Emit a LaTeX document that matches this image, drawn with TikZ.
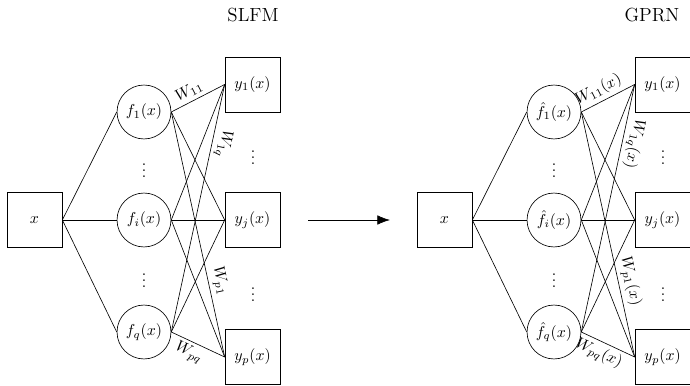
\documentclass[tikz,border=0pt]{standalone}
\usetikzlibrary{arrows.meta}
\begin{document}
\begin{tikzpicture}[x=0.6323pt,y=-0.6323pt,
  box/.style={draw, minimum size=34.8pt, inner sep=0pt},
  fnode/.style={draw, circle, minimum size=34.1pt, inner sep=0pt},
  lab/.style={sloped, inner sep=2.2pt},
  ttl/.style={font=\large}]
\useasboundingbox (0,0) rectangle (690,386);
\node[ttl] (tL) at (253,15) {SLFM};
\node[ttl] (tR) at (652,15) {GPRN};
\foreach \s/\o/\f/\w in {L/0/f/{}, R/410/\hat{f}/(x)} {
  \node[box] (x\s) at (34.5+\o,220) {$x$};
  \node[fnode] (f1\s) at (144+\o,112) {$\f_1(x)$};
  \node[fnode] (fi\s) at (144+\o,220) {$\f_i(x)$};
  \node[fnode] (fq\s) at (144+\o,332) {$\f_q(x)$};
  \node[box] (y1\s) at (252.5+\o,84.5) {$y_1(x)$};
  \node[box] (yj\s) at (252.5+\o,220) {$y_j(x)$};
  \node[box] (yp\s) at (252.5+\o,357) {$y_p(x)$};
  \node (da\s) at (144+\o,166) {$\vdots$};
  \node (db\s) at (144+\o,276) {$\vdots$};
  \node (dc\s) at (253+\o,153) {$\vdots$};
  \node (dd\s) at (253+\o,290) {$\vdots$};
  \foreach \a in {1,i,q} {
    \draw (x\s.east) -- (f\a\s.west);
    \foreach \b in {1,j,p} {
      \draw (f\a\s.east) -- (y\b\s.west);
    }
  }
  \path (f1\s.east) -- node[lab, above, pos=0.42] {$W_{11}\w$} (y1\s.west);
  \path (y1\s.west) -- node[lab, above, pos=0.23, allow upside down] {$W_{1q}\w$} (fq\s.east);
  \path (f1\s.east) -- node[lab, above, pos=0.7] {$W_{p1}\w$} (yp\s.west);
  \path (fq\s.east) -- node[lab, below, pos=0.42] {$W_{pq}\w$} (yp\s.west);
}
\coordinate (a1) at (308,220);
\coordinate (a2) at (390,220);
\draw[-{Latex[length=8pt,width=6pt]}] (a1) -- (a2);
\end{tikzpicture}
\end{document}
